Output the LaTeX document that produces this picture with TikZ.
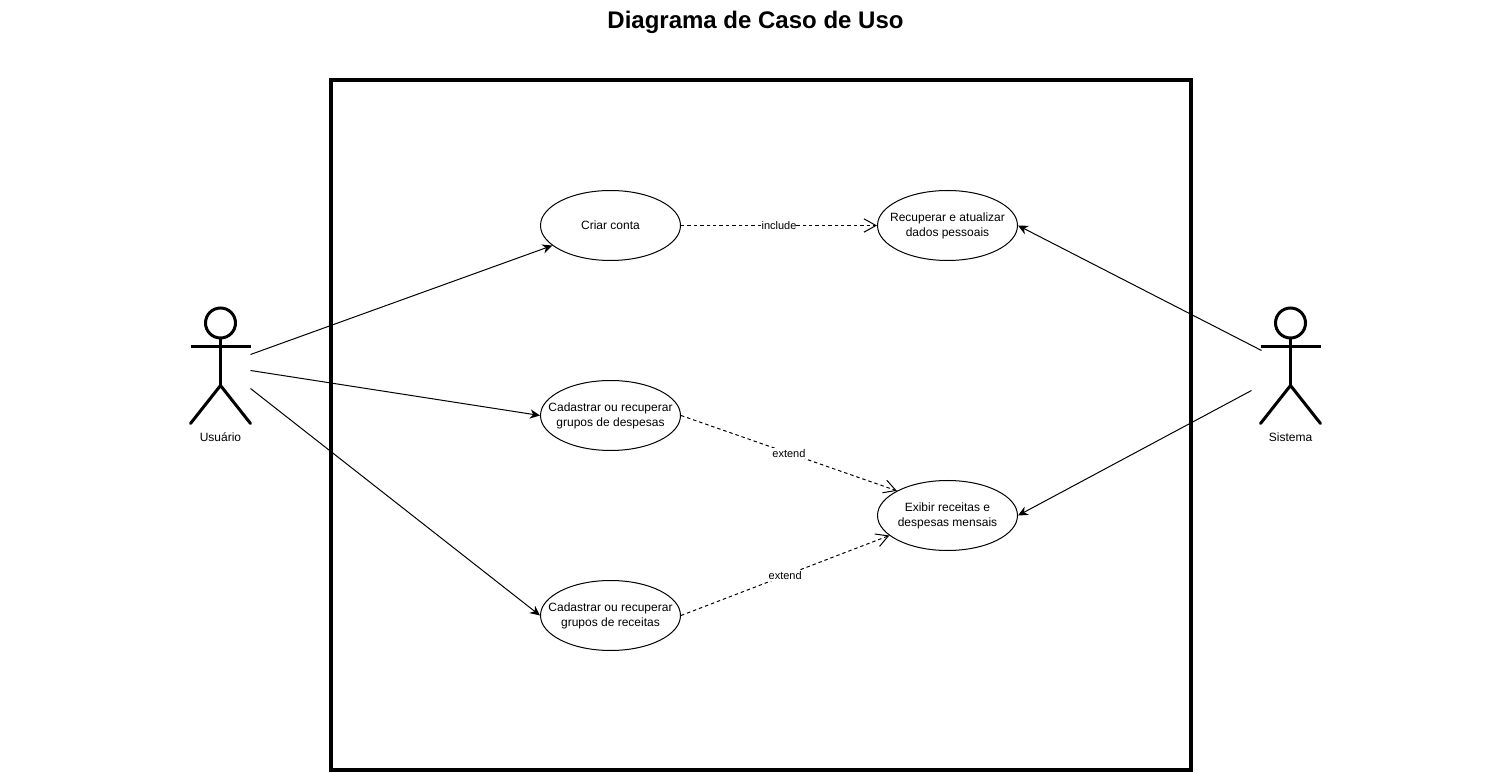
\documentclass[tikz,border=0pt]{standalone}
\usepackage{fontspec}
\usepackage{tikz}
\usetikzlibrary{shapes.geometric,arrows.meta}
\setmainfont{Liberation Sans}

\tikzset{
  usecase/.style={ellipse,draw,line width=.75pt,minimum width=105pt,minimum height=52.5pt,inner xsep=-20pt,inner ysep=0pt,align=center,font=\fontsize{9}{11.25}\selectfont},
  twolines/.style={usecase,execute at begin node=\rule{0pt}{9.4pt}},
  actorline/.style={line width=2.25pt},
  assoc/.style={draw,line width=.75pt,-{Stealth[length=7.5pt,width=7pt]}},
  dep/.style={draw,line width=.75pt,dash pattern=on 2.6pt off 2.2pt,-{Straight Barb[length=9pt,width=10pt,line width=.75pt]}},
  deplabel/.style={fill=white,inner xsep=0pt,inner ysep=1pt,font=\fontsize{8.25}{10}\selectfont},
}

\begin{document}
\begin{tikzpicture}[x=.75pt,y=-.75pt]
        \useasboundingbox (-.5,-.5) rectangle (1510.5,772.5);

        \node[font=\fontsize{18}{22}\selectfont\bfseries] (title) at (755,21.5) {Diagrama de Caso de Uso};
        \draw[line width=3pt] (330.5,80) rectangle (1190.5,769.5);

        % actors
        \begin{scope}[shift={(220,0)}]
          \node[circle,draw,actorline,minimum size=22.5pt,inner sep=0pt] (usuario) at (0,322.5) {};
          \draw[actorline] (usuario) -- (0,385);
          \draw[actorline] (-30,346) -- (30,346);
          \draw[actorline,line cap=round] (-30,423) -- (0,385) -- (30,423);
        \end{scope}
        \begin{scope}[shift={(1290,0)}]
          \node[circle,draw,actorline,minimum size=22.5pt,inner sep=0pt] (sistema) at (0,322.5) {};
          \draw[actorline] (sistema) -- (0,385);
          \draw[actorline] (-30,346) -- (30,346);
          \draw[actorline,line cap=round] (-30,423) -- (0,385) -- (30,423);
        \end{scope}

        \begin{scope}[every node/.style={font=\fontsize{9}{11}\selectfont}]
          \node (usuariolabel) at (220,437) {Usuário};
          \node (sistemalabel) at (1290,437) {Sistema};
        \end{scope}

        \node[usecase] (criar) at (610,225) {Criar conta};
        \begin{scope}[every node/.style={twolines}]
          \node (recuperar) at (947,225) {Recuperar e atualizar\\dados pessoais};
          \node (despesas)  at (610,415) {Cadastrar ou recuperar\\grupos de despesas};
          \node (receitas)  at (610,615) {Cadastrar ou recuperar\\grupos de receitas};
          \node (exibir)    at (947,515) {Exibir receitas e\\despesas mensais};
        \end{scope}

        \coordinate (u1) at (250,354);
        \coordinate (u2) at (250,370);
        \coordinate (u3) at (250,388);
        \coordinate (s1) at (1261,350);
        \coordinate (s2) at (1251,390);

        \path[assoc] (u1) -- (criar.199);
        \path[assoc] (u2) -- (despesas.west);
        \path[assoc] (u3) -- (receitas.west);
        \path[assoc] (s1) -- (recuperar.east);
        \path[assoc] (s2) -- (exibir.east);

        \begin{scope}[every node/.style={deplabel}]
          \path[dep] (criar.east) -- node (include) {include} (recuperar.west);
          \path[dep] (despesas.east) -- node[pos=.5] (extend1) {extend} (exibir.154);
          \path[dep] (receitas.east) -- node[pos=.5] (extend2) {extend} (exibir.199);
        \end{scope}

      \end{tikzpicture}
\end{document}
